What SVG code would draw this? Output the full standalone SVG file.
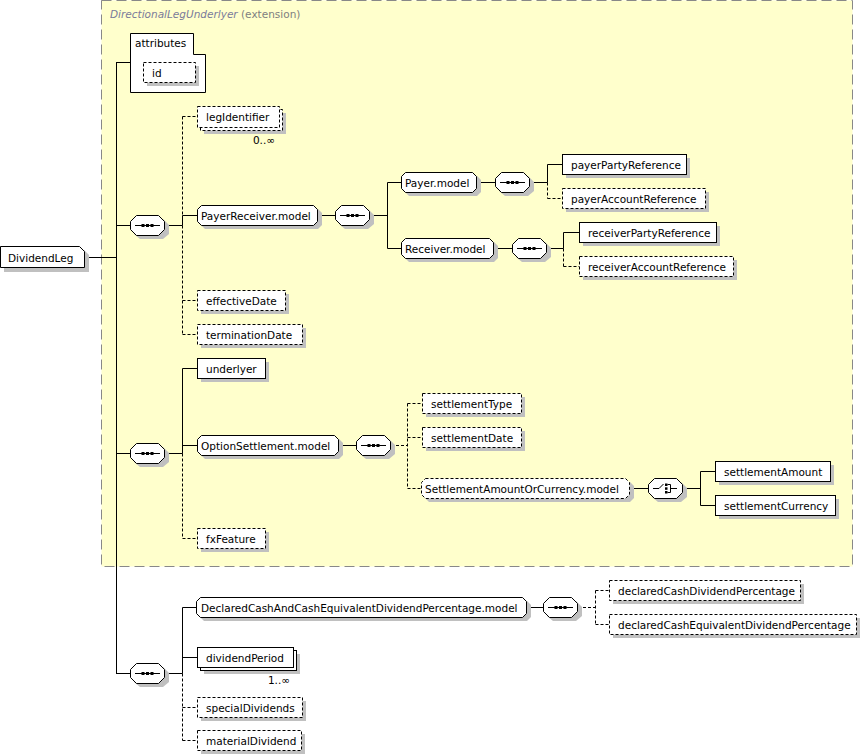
<svg xmlns="http://www.w3.org/2000/svg" xmlns:xlink="http://www.w3.org/1999/xlink" width="865" height="756" viewBox="0 0 865 756">
<style>
.bg{fill:#fff}
.box{fill:#fff;stroke:#000;stroke-width:1}
.opt{stroke-dasharray:3,2}
.sh{fill:#c0c0c0;stroke:none}
.ln{stroke:#000;stroke-width:1;fill:none}
.dl{stroke-dasharray:3,2}
.t{font-family:"DejaVu Sans",Verdana,sans-serif;font-size:10.5px;fill:#000}
.ext{fill:#ffffcc;stroke:#888;stroke-width:1;stroke-dasharray:10,5}
</style>
<defs>
<g id="seq">
<path class="sh" d="M10,4 H33 L39,10 V19 L33,24 H10 L4,19 V10 Z"/>
<path class="box" d="M6.5,0.5 H28.5 L34.5,6.5 V14.5 L28.5,20.5 H6.5 L0.5,14.5 V6.5 Z"/>
<line class="ln" x1="5" y1="10.5" x2="30" y2="10.5"/>
<rect x="11.5" y="9" width="3" height="3" fill="#000"/>
<rect x="16" y="9" width="3" height="3" fill="#000"/>
<rect x="20.5" y="9" width="3" height="3" fill="#000"/>
</g>
<g id="choice">
<path class="sh" d="M10,4 H33 L39,10 V19 L33,24 H10 L4,19 V10 Z"/>
<path class="box" d="M6.5,0.5 H28.5 L34.5,6.5 V14.5 L28.5,20.5 H6.5 L0.5,14.5 V6.5 Z"/>
<polyline class="ln" points="5,10.5 11,10.5 15.5,6"/>
<rect x="17" y="5.5" width="2.5" height="2.5" fill="#000"/>
<rect x="17" y="9.3" width="2.5" height="2.5" fill="#000"/>
<rect x="17" y="13" width="2.5" height="2.5" fill="#000"/>
<polyline class="ln" points="19.5,6.5 22.5,6.5 22.5,14.5 19.5,14.5"/>
<line class="ln" x1="22.5" y1="10.5" x2="29" y2="10.5"/>
</g>
</defs>
<rect class="bg" width="865" height="756"/>
<g id="ext-DirectionalLegUnderlyer">
<rect class="ext" x="101.5" y="0.5" width="751" height="566"/>
<text class="t" x="110" y="17.5"><tspan fill="#7a7a9a" font-style="italic">DirectionalLegUnderlyer</tspan><tspan fill="#808080"> (extension)</tspan></text>
</g>
<g id="connectors">
<line class="ln" x1="84" y1="257.5" x2="116.5" y2="257.5"/>
<line class="ln" x1="116.5" y1="62.5" x2="116.5" y2="673.5"/>
<line class="ln" x1="116" y1="62.5" x2="130.5" y2="62.5"/>
<line class="ln" x1="116" y1="225.5" x2="130" y2="225.5"/>
<line class="ln" x1="165" y1="225.5" x2="182.5" y2="225.5"/>
<line class="ln dl" x1="182.5" y1="116.5" x2="182.5" y2="215.5"/>
<line class="ln" x1="182.5" y1="215.5" x2="182.5" y2="225.5"/>
<line class="ln dl" x1="182.5" y1="225.5" x2="182.5" y2="334.5"/>
<line class="ln dl" x1="182.5" y1="116.5" x2="197.5" y2="116.5"/>
<line class="ln" x1="182.5" y1="215.5" x2="197.5" y2="215.5"/>
<line class="ln dl" x1="182.5" y1="300.5" x2="197.5" y2="300.5"/>
<line class="ln dl" x1="182.5" y1="334.5" x2="197.5" y2="334.5"/>
<line class="ln" x1="317.5" y1="215.5" x2="335" y2="215.5"/>
<line class="ln" x1="370" y1="215.5" x2="387.5" y2="215.5"/>
<line class="ln" x1="387.5" y1="182.5" x2="387.5" y2="248.5"/>
<line class="ln" x1="387.5" y1="182.5" x2="401.5" y2="182.5"/>
<line class="ln" x1="387.5" y1="248.5" x2="401.5" y2="248.5"/>
<line class="ln" x1="476.5" y1="182.5" x2="495" y2="182.5"/>
<line class="ln" x1="530" y1="182.5" x2="547.5" y2="182.5"/>
<line class="ln" x1="547.5" y1="164.5" x2="547.5" y2="182.5"/>
<line class="ln dl" x1="547.5" y1="182.5" x2="547.5" y2="198.5"/>
<line class="ln" x1="547.5" y1="164.5" x2="562.5" y2="164.5"/>
<line class="ln dl" x1="547.5" y1="198.5" x2="562.5" y2="198.5"/>
<line class="ln" x1="493.5" y1="248.5" x2="512" y2="248.5"/>
<line class="ln" x1="547" y1="248.5" x2="563.5" y2="248.5"/>
<line class="ln" x1="563.5" y1="232.5" x2="563.5" y2="248.5"/>
<line class="ln dl" x1="563.5" y1="248.5" x2="563.5" y2="266.5"/>
<line class="ln" x1="563.5" y1="232.5" x2="579.5" y2="232.5"/>
<line class="ln dl" x1="563.5" y1="266.5" x2="579.5" y2="266.5"/>
<line class="ln" x1="116" y1="453.5" x2="130" y2="453.5"/>
<line class="ln" x1="165" y1="453.5" x2="182.5" y2="453.5"/>
<line class="ln" x1="182.5" y1="368.5" x2="182.5" y2="453.5"/>
<line class="ln dl" x1="182.5" y1="453.5" x2="182.5" y2="538.5"/>
<line class="ln" x1="182.5" y1="368.5" x2="197.5" y2="368.5"/>
<line class="ln" x1="182.5" y1="445.5" x2="197.5" y2="445.5"/>
<line class="ln dl" x1="182.5" y1="538.5" x2="197.5" y2="538.5"/>
<line class="ln" x1="338.5" y1="445.5" x2="356" y2="445.5"/>
<line class="ln dl" x1="391" y1="445.5" x2="407.5" y2="445.5"/>
<line class="ln dl" x1="407.5" y1="403.5" x2="407.5" y2="488.5"/>
<line class="ln dl" x1="407.5" y1="403.5" x2="422.5" y2="403.5"/>
<line class="ln dl" x1="407.5" y1="437.5" x2="422.5" y2="437.5"/>
<line class="ln dl" x1="407.5" y1="488.5" x2="421.5" y2="488.5"/>
<line class="ln" x1="629.5" y1="488.5" x2="648" y2="488.5"/>
<line class="ln" x1="683" y1="488.5" x2="700.5" y2="488.5"/>
<line class="ln" x1="700.5" y1="471.5" x2="700.5" y2="505.5"/>
<line class="ln" x1="700.5" y1="471.5" x2="715.5" y2="471.5"/>
<line class="ln" x1="700.5" y1="505.5" x2="715.5" y2="505.5"/>
<line class="ln" x1="116" y1="673.5" x2="130" y2="673.5"/>
<line class="ln" x1="165" y1="673.5" x2="182.5" y2="673.5"/>
<line class="ln" x1="182.5" y1="607.5" x2="182.5" y2="673.5"/>
<line class="ln dl" x1="182.5" y1="673.5" x2="182.5" y2="740.5"/>
<line class="ln" x1="182.5" y1="607.5" x2="196.5" y2="607.5"/>
<line class="ln" x1="182.5" y1="657.5" x2="197.5" y2="657.5"/>
<line class="ln dl" x1="182.5" y1="707.5" x2="197.5" y2="707.5"/>
<line class="ln dl" x1="182.5" y1="740.5" x2="197.5" y2="740.5"/>
<line class="ln" x1="526.5" y1="607.5" x2="543" y2="607.5"/>
<line class="ln dl" x1="578" y1="607.5" x2="595.5" y2="607.5"/>
<line class="ln dl" x1="595.5" y1="590.5" x2="595.5" y2="624.5"/>
<line class="ln dl" x1="595.5" y1="590.5" x2="609.5" y2="590.5"/>
<line class="ln dl" x1="595.5" y1="624.5" x2="609.5" y2="624.5"/>
</g>
<g id="n-DividendLeg">
<path class="sh" d="M4,250 H84 L89,255 V272 H4 Z"/>
<path class="box" d="M0.5,246.5 H79.5 L84.5,251.5 V267.5 H0.5 Z"/>
<text class="t" x="8" y="261.5">DividendLeg</text>
</g>
<g id="n-attributes">
<path class="box" d="M130.5,33.5 H193.5 V54.5 H205.5 V92.5 H130.5 Z"/>
<text class="t" x="135" y="47">attributes</text>
</g>
<g id="n-id">
<rect class="sh" x="147" y="66" width="52" height="20"/>
<rect class="box opt" x="143.5" y="62.5" width="52" height="20"/>
<text class="t" x="152" y="76.5">id</text>
</g>
<g id="n-legIdentifier">
<rect class="sh" x="204" y="113" width="82" height="21"/>
<rect class="box opt" x="200.5" y="109.5" width="82" height="21"/>
<rect class="box opt" x="197.5" y="106.5" width="82" height="21"/>
<text class="t" x="206" y="120.5">legIdentifier</text>
<text class="t" x="275" y="144" text-anchor="end">0..∞</text>
</g>
<g id="n-seq1"><use xlink:href="#seq" x="130" y="215"/></g>
<g id="n-PayerReceiver.model">
<path class="sh" d="M205,209 H318 L322,213 V225 L318,229 H205 L201,225 V213 Z"/>
<path class="box" d="M201.5,205.5 H313.5 L317.5,209.5 V221.5 L313.5,225.5 H201.5 L197.5,221.5 V209.5 Z"/>
<text class="t" x="201" y="219.5">PayerReceiver.model</text>
</g>
<g id="n-seq2"><use xlink:href="#seq" x="335" y="205"/></g>
<g id="n-Payer.model">
<path class="sh" d="M409,176 H477 L481,180 V192 L477,196 H409 L405,192 V180 Z"/>
<path class="box" d="M405.5,172.5 H472.5 L476.5,176.5 V188.5 L472.5,192.5 H405.5 L401.5,188.5 V176.5 Z"/>
<text class="t" x="405" y="186.5">Payer.model</text>
</g>
<g id="n-seq3"><use xlink:href="#seq" x="495" y="172"/></g>
<g id="n-payerPartyReference">
<rect class="sh" x="566" y="158" width="124" height="20"/>
<rect class="box" x="562.5" y="154.5" width="124" height="20"/>
<text class="t" x="571" y="168.5">payerPartyReference</text>
</g>
<g id="n-payerAccountReference">
<rect class="sh" x="566" y="192" width="143" height="20"/>
<rect class="box opt" x="562.5" y="188.5" width="143" height="20"/>
<text class="t" x="571" y="202.5">payerAccountReference</text>
</g>
<g id="n-Receiver.model">
<path class="sh" d="M409,242 H494 L498,246 V258 L494,262 H409 L405,258 V246 Z"/>
<path class="box" d="M405.5,238.5 H489.5 L493.5,242.5 V254.5 L489.5,258.5 H405.5 L401.5,254.5 V242.5 Z"/>
<text class="t" x="405" y="252.5">Receiver.model</text>
</g>
<g id="n-seq4"><use xlink:href="#seq" x="512" y="238"/></g>
<g id="n-receiverPartyReference">
<rect class="sh" x="583" y="226" width="137" height="20"/>
<rect class="box" x="579.5" y="222.5" width="137" height="20"/>
<text class="t" x="588" y="236.5">receiverPartyReference</text>
</g>
<g id="n-receiverAccountReference">
<rect class="sh" x="583" y="260" width="154" height="20"/>
<rect class="box opt" x="579.5" y="256.5" width="154" height="20"/>
<text class="t" x="588" y="270.5">receiverAccountReference</text>
</g>
<g id="n-effectiveDate">
<rect class="sh" x="201" y="294" width="88" height="20"/>
<rect class="box opt" x="197.5" y="290.5" width="88" height="20"/>
<text class="t" x="206" y="304.5">effectiveDate</text>
</g>
<g id="n-terminationDate">
<rect class="sh" x="201" y="328" width="105" height="20"/>
<rect class="box opt" x="197.5" y="324.5" width="105" height="20"/>
<text class="t" x="206" y="338.5">terminationDate</text>
</g>
<g id="n-seq5"><use xlink:href="#seq" x="130" y="443"/></g>
<g id="n-underlyer">
<rect class="sh" x="201" y="362" width="68" height="20"/>
<rect class="box" x="197.5" y="358.5" width="68" height="20"/>
<text class="t" x="206" y="372.5">underlyer</text>
</g>
<g id="n-OptionSettlement.model">
<path class="sh" d="M205,439 H339 L343,443 V455 L339,459 H205 L201,455 V443 Z"/>
<path class="box" d="M201.5,435.5 H334.5 L338.5,439.5 V451.5 L334.5,455.5 H201.5 L197.5,451.5 V439.5 Z"/>
<text class="t" x="201" y="449.5">OptionSettlement.model</text>
</g>
<g id="n-fxFeature">
<rect class="sh" x="201" y="532" width="68" height="20"/>
<rect class="box opt" x="197.5" y="528.5" width="68" height="20"/>
<text class="t" x="206" y="542.5">fxFeature</text>
</g>
<g id="n-seq6"><use xlink:href="#seq" x="356" y="435"/></g>
<g id="n-settlementType">
<rect class="sh" x="426" y="397" width="99" height="20"/>
<rect class="box opt" x="422.5" y="393.5" width="99" height="20"/>
<text class="t" x="431" y="407.5">settlementType</text>
</g>
<g id="n-settlementDate">
<rect class="sh" x="426" y="431" width="99" height="20"/>
<rect class="box opt" x="422.5" y="427.5" width="99" height="20"/>
<text class="t" x="431" y="441.5">settlementDate</text>
</g>
<g id="n-SettlementAmountOrCurrency.model">
<path class="sh" d="M429,482 H630 L634,486 V498 L630,502 H429 L425,498 V486 Z"/>
<path class="box opt" d="M425.5,478.5 H625.5 L629.5,482.5 V494.5 L625.5,498.5 H425.5 L421.5,494.5 V482.5 Z"/>
<text class="t" x="425" y="492.5">SettlementAmountOrCurrency.model</text>
</g>
<g id="n-choice1"><use xlink:href="#choice" x="648" y="478"/></g>
<g id="n-settlementAmount">
<rect class="sh" x="719" y="465" width="115" height="20"/>
<rect class="box" x="715.5" y="461.5" width="115" height="20"/>
<text class="t" x="724" y="475.5">settlementAmount</text>
</g>
<g id="n-settlementCurrency">
<rect class="sh" x="719" y="499" width="120" height="20"/>
<rect class="box" x="715.5" y="495.5" width="120" height="20"/>
<text class="t" x="724" y="509.5">settlementCurrency</text>
</g>
<g id="n-seq7"><use xlink:href="#seq" x="130" y="663"/></g>
<g id="n-DeclaredCashAndCashEquivalentDividendPercentage.model">
<path class="sh" d="M204,601 H527 L531,605 V617 L527,621 H204 L200,617 V605 Z"/>
<path class="box" d="M200.5,597.5 H522.5 L526.5,601.5 V613.5 L522.5,617.5 H200.5 L196.5,613.5 V601.5 Z"/>
<text class="t" x="201" y="611.5">DeclaredCashAndCashEquivalentDividendPercentage.model</text>
</g>
<g id="n-seq8"><use xlink:href="#seq" x="543" y="597"/></g>
<g id="n-declaredCashDividendPercentage">
<rect class="sh" x="613" y="584" width="191" height="20"/>
<rect class="box opt" x="609.5" y="580.5" width="191" height="20"/>
<text class="t" x="618" y="594.5">declaredCashDividendPercentage</text>
</g>
<g id="n-declaredCashEquivalentDividendPercentage">
<rect class="sh" x="613" y="618" width="247" height="20"/>
<rect class="box opt" x="609.5" y="614.5" width="247" height="20"/>
<text class="t" x="618" y="628.5">declaredCashEquivalentDividendPercentage</text>
</g>
<g id="n-dividendPeriod">
<rect class="sh" x="204" y="654" width="96" height="20"/>
<rect class="box" x="200.5" y="650.5" width="96" height="20"/>
<rect class="box" x="197.5" y="647.5" width="96" height="20"/>
<text class="t" x="206" y="661.5">dividendPeriod</text>
<text class="t" x="290" y="684" text-anchor="end">1..∞</text>
</g>
<g id="n-specialDividends">
<rect class="sh" x="201" y="701" width="105" height="20"/>
<rect class="box opt" x="197.5" y="697.5" width="105" height="20"/>
<text class="t" x="206" y="711.5">specialDividends</text>
</g>
<g id="n-materialDividend">
<rect class="sh" x="201" y="734" width="104" height="20"/>
<rect class="box opt" x="197.5" y="730.5" width="104" height="20"/>
<text class="t" x="206" y="744.5">materialDividend</text>
</g>
</svg>
